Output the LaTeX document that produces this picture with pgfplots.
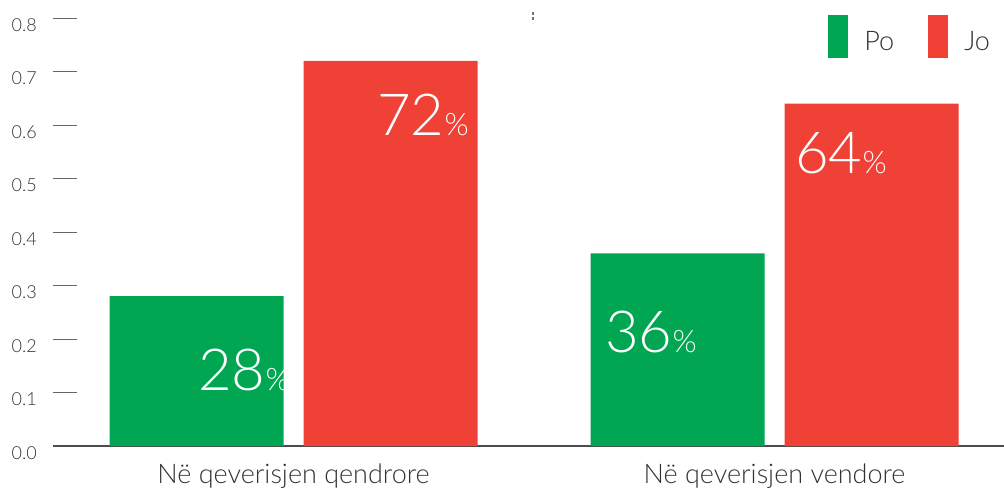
\documentclass[border=0pt]{standalone}
\usepackage{fontspec}
\setmainfont{Lato}[UprightFont=* Light]
\usepackage{pgfplots}
\pgfplotsset{compat=1.18}
\definecolor{pogreen}{RGB}{0,166,81}
\definecolor{jored}{RGB}{239,65,54}
\definecolor{txt}{RGB}{51,51,51}
\begin{document}
\begin{tikzpicture}
\path[use as bounding box] (-53pt,-42pt) rectangle (951pt,446pt);
\begin{axis}[
  scale only axis,
  anchor=south west,
  at={(0pt,0pt)},
  width=951pt, height=428pt,
  xmin=-0.5, xmax=1.477,
  ymin=0, ymax=0.8,
  ybar=20pt,
  bar width=174pt,
  separate axis lines,
  axis x line*=bottom,
  axis y line*=left,
  x axis line style={draw=black!70, line width=1.3pt, -},
  y axis line style={draw=none},
  xtick={0,1},
  xticklabels={Në qeverisjen qendrore, Në qeverisjen vendore},
  major x tick style={draw=none},
  ytick={0,0.1,...,0.8},
  tick align=inside,
  major tick length=24pt,
  major y tick style={draw=black!60, line width=1pt},
  yticklabel style={anchor=east, inner sep=0pt, xshift=-16pt, yshift=-7pt, text=txt, font=\fontsize{18}{20}\selectfont},
  xticklabel style={anchor=base, inner sep=0pt, yshift=-37pt, text=txt, font=\fontsize{27}{30}\selectfont},
  /pgf/number format/assume math mode=true,
  yticklabel={\pgfmathprintnumber[fixed, fixed zerofill, precision=1]{\tick}},
  legend columns=2,
  legend style={at={(rel axis cs:1,1)}, anchor=north east, xshift=-14pt, yshift=3pt,
    draw=none, fill=none, inner sep=0pt, outer sep=0pt,
    nodes={inner sep=0pt, text=txt, font=\fontsize{27}{30}\selectfont},
    /tikz/every odd column/.append style={column sep=16pt},
    /tikz/every even column/.append style={column sep=34pt}},
  legend image code/.code={\fill[#1] (0pt,-16.5pt) rectangle (20pt,26.5pt);},
  clip=false,
]
\addplot[fill=pogreen, draw=none] coordinates {(0,0.28) (1,0.36)};
\addplot[fill=jored, draw=none] coordinates {(0,0.72) (1,0.64)};
\legend{Po, Jo}
\node[anchor=base west, inner sep=0pt, text=white] at (axis cs:-0.1985,0.103) {\fontsize{58}{60}\selectfont 28\fontsize{31}{33}\selectfont\%};
\node[anchor=base west, inner sep=0pt, text=white] at (axis cs:0.1736,0.581) {\fontsize{58}{60}\selectfont 72\fontsize{31}{33}\selectfont\%};
\node[anchor=base west, inner sep=0pt, text=white] at (axis cs:0.6476,0.174) {\fontsize{58}{60}\selectfont 36\fontsize{31}{33}\selectfont\%};
\node[anchor=base west, inner sep=0pt, text=white] at (axis cs:1.0426,0.510) {\fontsize{58}{60}\selectfont 64\fontsize{31}{33}\selectfont\%};
\end{axis}
\draw[black!55, line width=1.4pt, dash pattern=on 3pt off 2.5pt] (480pt,434pt) -- (480pt,423pt);
\end{tikzpicture}
\end{document}
